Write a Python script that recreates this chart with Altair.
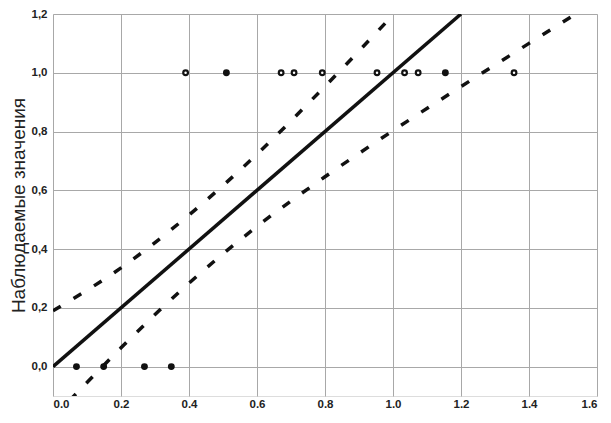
import altair as alt
import pandas as pd

# Observed points
obs_x = [0.069, 0.149, 0.269, 0.348, 0.390, 0.510, 0.671, 0.709, 0.792, 0.953, 1.034, 1.074, 1.154, 1.356]
obs_y = [0.0, 0.0, 0.0, 0.0, 1.0, 1.0, 1.0, 1.0, 1.0, 1.0, 1.0, 1.0, 1.0, 1.0]
obs_filled = [True, True, True, True, False, True, False, False, False, False, False, False, True, False]

# Fitted line
fit_x = [0.0, 1.2]
fit_y = [0.0, 1.2]

# Upper band
up_x = [0.0, 0.2, 0.4, 0.6, 0.8, 1.0, 1.1]
up_y = [0.19, 0.336, 0.516, 0.723, 0.954, 1.197, 1.322]

# Lower band
lo_x = [0.0, 0.1, 0.2, 0.4, 0.6, 0.8, 1.0, 1.2, 1.4, 1.6]
lo_y = [-0.174, -0.054, 0.064, 0.284, 0.477, 0.646, 0.803, 0.953, 1.10, 1.246]

x_ticks = [0.0, 0.2, 0.4, 0.6, 0.8, 1.0, 1.2, 1.4, 1.6]
y_ticks = [0.0, 0.2, 0.4, 0.6, 0.8, 1.0, 1.2]

label_expr = "replace(format(datum.value, '.1f'), '.', ',')"
font = "Liberation Sans"

xs = alt.Scale(domain=[0, 1.6], nice=False, zero=False)
ys = alt.Scale(domain=[-0.1, 1.2], nice=False, zero=False)

xax = alt.Axis(values=x_ticks, labelExpr=label_expr, title=None, grid=True,
               gridColor="#a8a8a8", gridWidth=1, ticks=False, domain=False,
               labelFont=font, labelFontSize=11.5, labelFontWeight="bold",
               labelColor="#222222", labelPadding=2)
yax = alt.Axis(values=y_ticks, labelExpr=label_expr, title="Наблюдаемые значения",
               grid=True, gridColor="#a8a8a8", gridWidth=1, ticks=False, domain=False,
               labelFont=font, labelFontSize=11.5, labelFontWeight="bold",
               labelColor="#222222", labelPadding=6,
               titleFont=font, titleFontSize=19, titleFontWeight="normal",
               titleColor="#222222", titlePadding=3)

fit_df = pd.DataFrame({"x": fit_x, "y": fit_y})
up_df = pd.DataFrame({"x": up_x, "y": up_y})
lo_df = pd.DataFrame({"x": lo_x, "y": lo_y})
obs_df = pd.DataFrame({"x": obs_x, "y": obs_y, "filled": obs_filled})

fit = alt.Chart(fit_df).mark_line(color="#111111", strokeWidth=3.5, clip=True).encode(
    x=alt.X("x:Q", scale=xs, axis=xax),
    y=alt.Y("y:Q", scale=ys, axis=yax),
)
up = alt.Chart(up_df).mark_line(color="#111111", strokeWidth=3.5, strokeDash=[9, 15],
                                 clip=True, interpolate="monotone").encode(
    x=alt.X("x:Q", scale=xs), y=alt.Y("y:Q", scale=ys))
lo = alt.Chart(lo_df).mark_line(color="#111111", strokeWidth=3.5, strokeDash=[9, 15],
                                 clip=True, interpolate="monotone").encode(
    x=alt.X("x:Q", scale=xs), y=alt.Y("y:Q", scale=ys))
pts = alt.Chart(obs_df).mark_point(shape="circle", size=22, strokeWidth=2.2,
                                   color="#111111", opacity=1).encode(
    x=alt.X("x:Q", scale=xs), y=alt.Y("y:Q", scale=ys),
    fill=alt.condition("datum.filled", alt.value("#111111"), alt.value("white")),
)

chart = alt.layer(fit, up, lo, pts).properties(
    width=544, height=382,
    autosize=alt.AutoSizeParams(type="none"),
    padding={"left": 45, "top": 6, "right": 6, "bottom": 12},
).configure_view(stroke="#111111", strokeWidth=2).configure(background="white")

chart.save("out.html", embed_options={"renderer": "svg", "actions": False})
